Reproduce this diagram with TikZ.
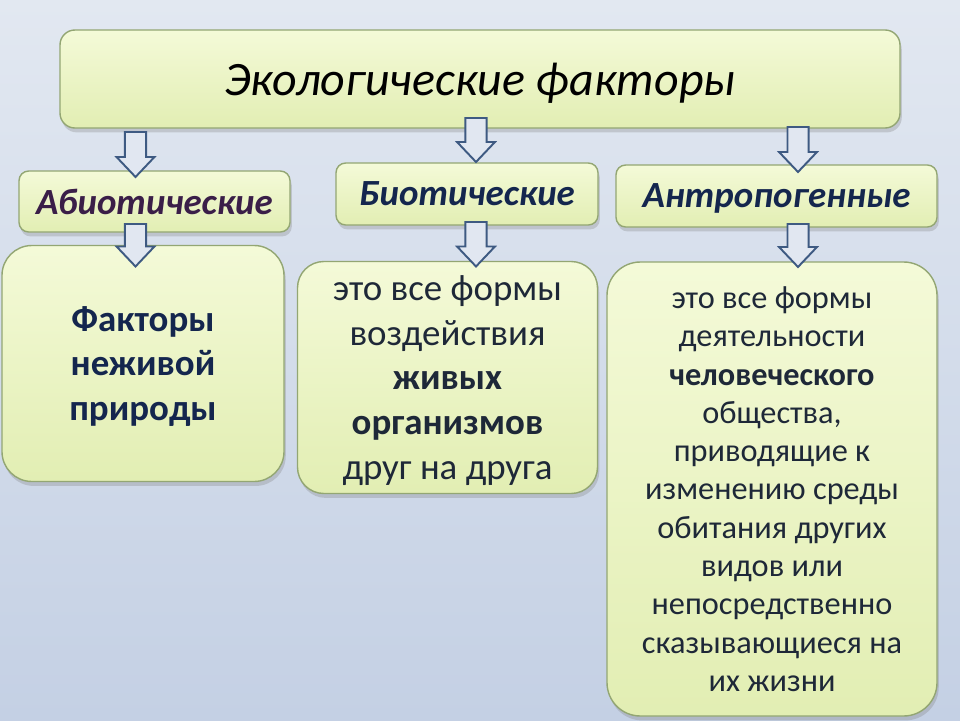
\documentclass[tikz,border=0pt]{standalone}
\usepackage{fontspec}
\setmainfont{Carlito}
\usetikzlibrary{calc}
\usetikzlibrary{shadows}
\usetikzlibrary{positioning}
\newcommand{\pxl}{0.02cm}
\definecolor{bgtop}{HTML}{E2E8F1}
\definecolor{bgbot}{HTML}{C4D0E4}
\definecolor{boxtop}{HTML}{F4FAD8}
\definecolor{boxbot}{HTML}{E2EEB3}
\definecolor{boxline}{HTML}{93A673}
\definecolor{arrline}{HTML}{3E5A82}
\definecolor{arrfill}{HTML}{E1E7F1}
\definecolor{mviolet}{HTML}{3A1E48}
\definecolor{mnavy}{HTML}{14264E}
\definecolor{mtext}{HTML}{1E2838}
\tikzset{factorbox/.style = {draw=boxline, line width=0.8pt,
                             top color=boxtop, bottom color=boxbot,
                             inner sep=0pt, outer sep=0pt, align=center,
                             drop shadow={opacity=0.3, shadow xshift=1pt, shadow yshift=-2.5pt}},
         blockarrow/.style = {draw=arrline, fill=arrfill, line width=1.1pt, line join=miter}}
\newcommand{\downblock}[2]{%
  \draw [blockarrow] let \p1 = (#1), \p2 = (#2) in
    (\x1-6pt, \y1) -- (\x1+6pt, \y1) -- (\x1+6pt, \y2+11.4pt) -- (\x1+10.8pt, \y2+11.4pt)
    -- (\x1, \y2) -- (\x1-10.8pt, \y2+11.4pt) -- (\x1-6pt, \y2+11.4pt) -- cycle;}

\begin{document}
\begin{tikzpicture}[x=\pxl, y=-\pxl]
    % background
    \fill [top color=bgtop, bottom color=bgbot] (0, 0) rectangle (960, 720);
    \useasboundingbox (0, 0) rectangle (960, 720);

    \node [factorbox, rounded corners=8.5pt, minimum width=840*\pxl, minimum height=98*\pxl, text depth=0pt,
           font=\fontsize{27.3}{33}\selectfont\itshape] (title) at (480, 79) {Экологические факторы};

    \node [factorbox, rounded corners=5.5pt, minimum width=271*\pxl, minimum height=61*\pxl, text depth=-2pt,
           font=\fontsize{21}{25}\selectfont\bfseries\itshape, text=mviolet] (abio) at (154.5, 201.5) {Абиотические};
    \node [factorbox, rounded corners=5.5pt, minimum width=262*\pxl, minimum height=62*\pxl,
           font=\fontsize{21}{25}\selectfont\bfseries\itshape, text=mnavy] (bio) at (467, 194) {Биотические};
    \node [factorbox, rounded corners=5.5pt, minimum width=321*\pxl, minimum height=62*\pxl, text depth=-1pt,
           font=\fontsize{21}{25}\selectfont\bfseries\itshape, text=mnavy] (anthro) at (776.5, 196) {Антропогенные};

    \node [factorbox, rounded corners=17pt, minimum width=282*\pxl, minimum height=236*\pxl, text depth=-1pt,
           font=\fontsize{21}{25.5}\selectfont\bfseries, text=mnavy] (boxA) at (143, 363.5)
          {Факторы\\неживой\\природы};
    \node [factorbox, rounded corners=15pt, minimum width=300*\pxl, minimum height=232*\pxl, text depth=0pt,
           font=\fontsize{21}{25.4}\selectfont, text=mtext] (boxB) at (447.5, 377.5)
          {это все формы\\воздействия\\\textbf{живых}\\\textbf{организмов}\\друг на друга};
    \node [factorbox, rounded corners=19pt, minimum width=330*\pxl, minimum height=454*\pxl, text depth=-4.4pt,
           font=\fontsize{18.4}{21.8}\selectfont, text=mtext] (boxC) at (772, 489)
          {это все формы\\деятельности\\\textbf{человеческого}\\общества,\\приводящие к\\изменению среды\\обитания других\\видов или\\непосредственно\\сказывающиеся на\\их жизни};

    % arrows
    \downblock{$(title.south -| abio.north)+(-19, 4)$}{$(abio.north)+(-19, 6)$}
    \downblock{$(title.south -| bio.north)+(9, -10)$}{$(bio.north)+(9, -1)$}
    \downblock{$(title.south -| anthro.north)+(21.5, -1)$}{$(anthro.north)+(21.5, 7)$}
    \downblock{$(abio.south)+(-19, -8)$}{$(boxA.north)+(-7.5, 21)$}
    \downblock{$(bio.south)+(9, -3)$}{$(boxB.north)+(28.5, 5)$}
    \downblock{$(anthro.south)+(21.5, -3)$}{$(boxC.north)+(26, 5)$}
\end{tikzpicture}
\end{document}
